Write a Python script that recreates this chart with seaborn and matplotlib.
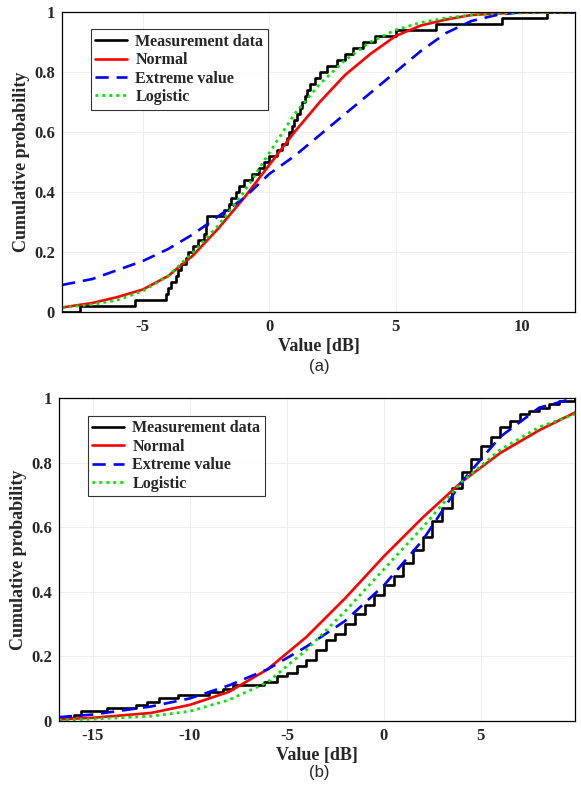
import numpy as np
import pandas as pd
import matplotlib
matplotlib.use("Agg")
import matplotlib.pyplot as plt
import seaborn as sns

sns.set_style("white")
plt.rcParams['font.family'] = ['Liberation Serif', 'DejaVu Serif']

# ---- panel (a) ----
a_meas_x = [-8.2, -7.5, -5.3, -4.1, -4.0, -3.9, -3.7, -3.6, -3.5, -3.3, -3.2, -3.0, -2.8, -2.6, -2.5, -2.45,
            -1.8, -1.6, -1.5, -1.3, -1.2, -1.0, -0.7, -0.4, -0.2, 0.0, 0.3, 0.5, 0.7, 0.8, 0.9, 1.0,
            1.1, 1.2, 1.3, 1.4, 1.5, 1.6, 1.8, 2.0, 2.3, 2.7, 3.0, 3.3, 3.7, 4.2, 5.0, 6.6, 9.2, 11.0, 12.1]
a_meas_y = [0.0, 0.02, 0.04, 0.06, 0.08, 0.10, 0.12, 0.14, 0.16, 0.18, 0.20, 0.22, 0.24, 0.26, 0.29, 0.32,
            0.34, 0.36, 0.38, 0.40, 0.42, 0.44, 0.46, 0.48, 0.50, 0.52, 0.54, 0.56, 0.58, 0.60, 0.62, 0.64,
            0.66, 0.68, 0.70, 0.72, 0.74, 0.76, 0.78, 0.80, 0.82, 0.84, 0.86, 0.88, 0.90, 0.92, 0.94, 0.96, 0.98, 1.0, 1.0]
a_fit_x = [-8.2, -7, -6, -5, -4, -3, -2, -1, 0, 1, 2, 3, 4, 5, 6, 7, 8, 9, 10, 12.1]
a_normal = [0.015, 0.03, 0.05, 0.075, 0.12, 0.19, 0.28, 0.38, 0.49, 0.60, 0.70, 0.79, 0.86, 0.92, 0.955, 0.975, 0.99, 0.995, 0.998, 1.0]
a_extreme = [0.09, 0.11, 0.14, 0.17, 0.21, 0.26, 0.32, 0.38, 0.46, 0.52, 0.59, 0.66, 0.73, 0.80, 0.87, 0.93, 0.97, 0.99, 1.0, 1.0]
a_logistic = [0.015, 0.025, 0.04, 0.07, 0.12, 0.20, 0.29, 0.40, 0.53, 0.66, 0.76, 0.84, 0.90, 0.94, 0.965, 0.98, 0.99, 0.995, 0.997, 1.0]

# ---- panel (b) ----
b_meas_x = [-16.75, -16.0, -15.6, -14.3, -12.8, -12.2, -11.6, -10.6, -9.0, -8.3, -7.8, -6.2, -5.5, -5.0, -4.5, -4.0,
            -3.5, -3.0, -2.5, -2.0, -1.5, -1.0, -0.5, 0, 0.5, 1.0, 1.5, 2.0, 2.5, 3.0, 3.5, 4.0, 4.5, 5.0,
            5.5, 6.0, 6.5, 7.0, 7.5, 8.0, 8.5, 9.0, 9.5, 9.85]
b_meas_y = [0.01, 0.02, 0.03, 0.04, 0.05, 0.06, 0.07, 0.08, 0.09, 0.10, 0.11, 0.12, 0.14, 0.15, 0.17, 0.19,
            0.22, 0.25, 0.27, 0.30, 0.33, 0.36, 0.39, 0.42, 0.45, 0.49, 0.53, 0.57, 0.62, 0.66, 0.72, 0.77, 0.81, 0.85,
            0.88, 0.91, 0.93, 0.95, 0.96, 0.97, 0.98, 0.99, 0.99, 1.0]
b_fit_x = [-16.75, -15, -12, -10, -8, -6, -4, -2, 0, 2, 4, 6, 8, 9.85]
b_normal = [0.005, 0.01, 0.025, 0.05, 0.09, 0.16, 0.26, 0.38, 0.51, 0.63, 0.74, 0.83, 0.90, 0.955]
b_extreme = [0.012, 0.02, 0.045, 0.07, 0.11, 0.16, 0.23, 0.31, 0.42, 0.56, 0.74, 0.88, 0.97, 1.0]
b_logistic = [0.003, 0.006, 0.015, 0.03, 0.065, 0.12, 0.22, 0.34, 0.47, 0.60, 0.74, 0.84, 0.91, 0.95]

labels = ["Measurement data", "Normal", "Extreme value", "Logistic"]

fig = plt.figure(figsize=(5.81, 7.89), dpi=100)
W, H = 581, 789
ax1 = fig.add_axes([62 / W, 1 - 312 / H, 513 / W, 300 / H])
ax2 = fig.add_axes([59 / W, 1 - 721 / H, 516 / W, 323 / H])

def draw(ax, mx, my, fx, fn, fe, fl, xlim, xticks, cap, capy):
    sns.lineplot(x=mx, y=my, ax=ax, color="black", lw=1.9, drawstyle="steps-post", label=labels[0], sort=False)
    sns.lineplot(x=fx, y=fn, ax=ax, color="#ff0000", lw=1.9, label=labels[1])
    sns.lineplot(x=fx, y=fe, ax=ax, color="#0000ff", lw=1.9, ls=(0, (5, 3)), label=labels[2])
    sns.lineplot(x=fx, y=fl, ax=ax, color="#00e600", lw=2.0, ls=(0, (1, 1.5)), label=labels[3])
    ax.set_xlim(*xlim)
    ax.set_ylim(0, 1)
    ax.set_xticks(xticks)
    ax.set_xticklabels([str(t) for t in xticks])
    ax.set_yticks([0, 0.2, 0.4, 0.6, 0.8, 1])
    ax.set_yticklabels(["0", "0.2", "0.4", "0.6", "0.8", "1"])
    ax.grid(True, color="#ebebeb", lw=0.6)
    ax.tick_params(direction="in", length=4, labelsize=12, width=0.8, pad=5)
    for lab in ax.get_xticklabels() + ax.get_yticklabels():
        lab.set_fontweight("bold")
    for s in ax.spines.values():
        s.set_color("black")
        s.set_linewidth(0.9)
    ax.set_xlabel("Value [dB]", fontsize=13, fontweight="bold", labelpad=2)
    ax.set_ylabel("Cumulative probability", fontsize=13, fontweight="bold", labelpad=3)
    leg = ax.legend(loc="upper left", bbox_to_anchor=(0.04, 0.97), frameon=True, fancybox=False,
                    edgecolor="black", prop={"weight": "bold", "size": 11.5}, handlelength=2.0,
                    borderpad=0.3, labelspacing=0.15, handletextpad=0.5)
    leg.get_frame().set_linewidth(0.8)
    fig.text(0.55, 1 - capy / H, cap, ha="center", va="center", fontsize=12, family="Liberation Sans")

draw(ax1, a_meas_x, a_meas_y, a_fit_x, a_normal, a_extreme, a_logistic, (-8.2, 12.1), [-5, 0, 5, 10], "(a)", 367)
draw(ax2, b_meas_x, b_meas_y, b_fit_x, b_normal, b_extreme, b_logistic, (-16.75, 9.85), [-15, -10, -5, 0, 5], "(b)", 773)

fig.savefig("out.png", dpi=100)
